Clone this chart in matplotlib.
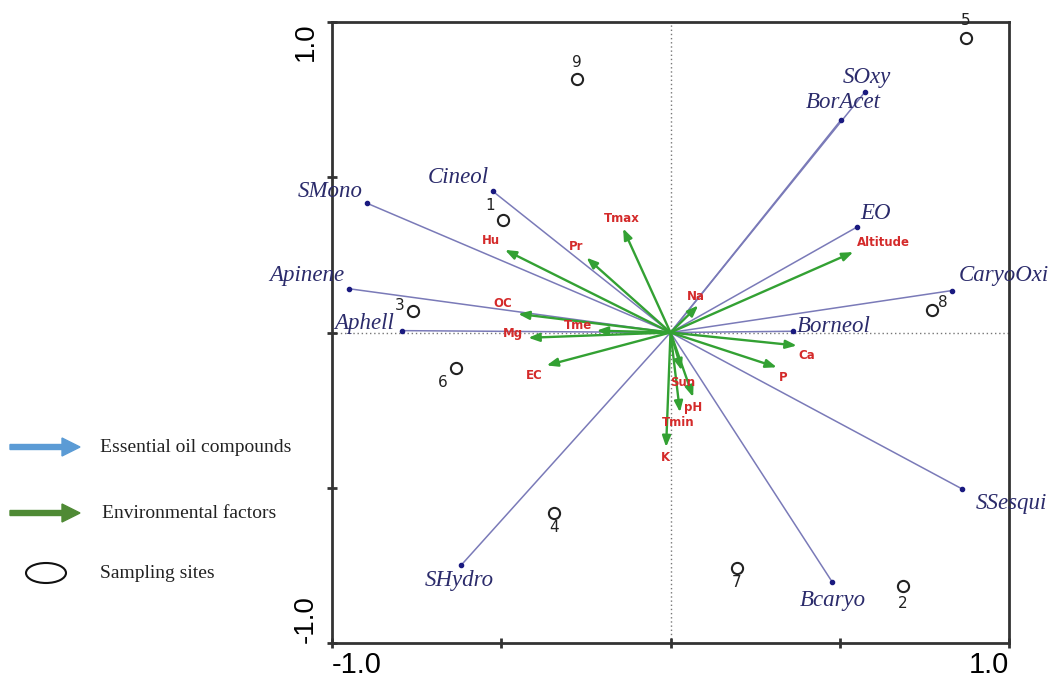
import matplotlib
matplotlib.use("Agg")
import matplotlib.pyplot as plt
from matplotlib.patches import Ellipse, FancyArrow

# ---- data ----
oil_names = ["SMono", "Cineol", "Apinene", "Aphell", "SOxy", "BorAcet", "EO",
             "CaryoOxi", "Borneol", "SSesqui", "Bcaryo", "SHydro"]
oil_x = [-0.896, -0.525, -0.950, -0.794, 0.574, 0.504, 0.550, 0.831, 0.363, 0.860, 0.478, -0.619]
oil_y = [0.416, 0.455, 0.141, 0.006, 0.774, 0.685, 0.339, 0.135, 0.004, -0.503, -0.804, -0.750]

env_names = ["Tmax", "Hu", "Pr", "OC", "Tme", "Mg", "EC", "Na", "Altitude",
             "Ca", "P", "Sun", "pH", "Tmin", "K"]
env_x = [-0.140, -0.489, -0.248, -0.450, -0.218, -0.420, -0.366, 0.082, 0.540,
         0.373, 0.314, 0.033, 0.067, 0.028, -0.013]
env_y = [0.335, 0.266, 0.241, 0.060, 0.006, -0.017, -0.106, 0.087, 0.259,
         -0.042, -0.112, -0.122, -0.208, -0.257, -0.369]

site_names = ["1", "2", "3", "4", "5", "6", "7", "8", "9"]
site_x = [-0.495, 0.687, -0.761, -0.344, 0.873, -0.634, 0.196, 0.772, -0.276]
site_y = [0.361, -0.818, 0.068, -0.580, 0.950, -0.113, -0.757, 0.074, 0.818]

# label offsets (pixels) for readability
oil_off = {"SMono": (-37, 12), "Cineol": (-35, 14), "Apinene": (-42, 13), "Aphell": (-38, 7),
           "SOxy": (2, 15), "BorAcet": (2, 17), "EO": (19, 14), "CaryoOxi": (52, 15),
           "Borneol": (40, 5), "SSesqui": (50, -15), "Bcaryo": (1, -18), "SHydro": (-2, -15)}
env_off = {"Tmax": (-1, 10), "Hu": (-14, 9), "Pr": (-10, 11), "OC": (-15, 10), "Tme": (-19, 5),
           "Mg": (-15, 4), "EC": (-12, -10), "Na": (-2, 9), "Altitude": (30, 10),
           "Ca": (10, -10), "P": (6, -10), "Sun": (1, -12), "pH": (0, -10), "Tmin": (-2, -10),
           "K": (-1, -10)}
site_off = {"1": (-13, 15), "2": (0, -17), "3": (-13, 6), "4": (0, -15), "5": (0, 17),
            "6": (-13, -15), "7": (0, -15), "8": (11, 7), "9": (0, 16)}

W, H = 1050, 678
fig = plt.figure(figsize=(W / 100, H / 100), dpi=100)
ax = fig.add_axes([332 / W, 1 - 643 / H, (1009 - 332) / W, (643 - 22) / H])
ax.set_xlim(-1, 1)
ax.set_ylim(-1, 1)

for s in ax.spines.values():
    s.set_linewidth(2)
    s.set_color("#333333")

ax.axhline(0, color="#777777", ls=(0, (1, 2)), lw=1, zorder=1)
ax.axvline(0, color="#777777", ls=(0, (1, 2)), lw=1, zorder=1)

navy = "#2b2b6b"
for n, x, y in zip(oil_names, oil_x, oil_y):
    ax.plot([0, x], [0, y], color="#7a7ab8", lw=1.1, zorder=2, solid_capstyle="butt")
    ax.plot([x], [y], marker="o", ms=3, color="#1a1a80", zorder=3)
    dx, dy = oil_off[n]
    ax.annotate(n, xy=(x, y), xytext=(dx, dy), textcoords="offset pixels",
                ha="center", va="center", fontsize=16.5, style="italic",
                family="Liberation Serif", color=navy, annotation_clip=False, zorder=4)

green = "#33a133"
for n, x, y in zip(env_names, env_x, env_y):
    ax.annotate("", xy=(x, y), xytext=(0, 0),
                arrowprops=dict(arrowstyle="-|>,head_length=0.65,head_width=0.25",
                                color=green, lw=1.7, shrinkA=0, shrinkB=0), zorder=5)
    dx, dy = env_off[n]
    ax.annotate(n, xy=(x, y), xytext=(dx, dy), textcoords="offset pixels",
                ha="center", va="center", fontsize=8.5, fontweight="bold",
                color="#d42a2a", zorder=6)

ax.scatter(site_x, site_y, s=65, facecolors="white", edgecolors="#222222",
           linewidths=1.5, zorder=7)
for n, x, y in zip(site_names, site_x, site_y):
    dx, dy = site_off[n]
    ax.annotate(n, xy=(x, y), xytext=(dx, dy), textcoords="offset pixels",
                ha="center", va="center", fontsize=11, color="#222222",
                annotation_clip=False, zorder=8)

ax.set_xticks([-1, -0.5, 0, 0.5, 1])
ax.set_xticklabels(["-1.0", "", "", "", "1.0"], fontsize=21, family="Liberation Sans")
ax.set_yticks([-1, -0.5, 0, 0.5, 1])
ax.set_yticklabels(["-1.0", "", "", "", "1.0"], fontsize=20, rotation=90,
                   family="Liberation Sans")
ax.tick_params(direction="inout", length=7, width=2, color="#333333")
ax.tick_params(axis="x", pad=2)
ax.tick_params(axis="y", pad=6)
xl = ax.get_xticklabels()
xl[0].set_ha("left")
xl[-1].set_ha("right")
yl = ax.get_yticklabels()
for t in yl:
    t.set_ha("right")
yl[0].set_va("bottom")
yl[-1].set_va("top")

# ---- legend on the left ----
fig.patches.append(FancyArrow(10 / W, 1 - 447 / H, 52 / W, 0, width=5 / H,
                              head_width=18 / H, head_length=18 / W,
                              length_includes_head=False, color="#5b9bd5",
                              transform=fig.transFigure, figure=fig))
fig.patches.append(FancyArrow(10 / W, 1 - 513 / H, 52 / W, 0, width=5 / H,
                              head_width=18 / H, head_length=18 / W,
                              length_includes_head=False, color="#4f8a35",
                              transform=fig.transFigure, figure=fig))
fig.patches.append(Ellipse((46 / W, 1 - 573 / H), 40 / W, 20 / H, fill=False,
                           edgecolor="#111111", lw=1.5, transform=fig.transFigure,
                           figure=fig))
fig.text(100 / W, 1 - 447 / H, "Essential oil compounds", family="Liberation Serif",
         fontsize=14, va="center", ha="left", color="#222222")
fig.text(102 / W, 1 - 513 / H, "Environmental factors", family="Liberation Serif",
         fontsize=14, va="center", ha="left", color="#222222")
fig.text(100 / W, 1 - 573 / H, "Sampling sites", family="Liberation Serif",
         fontsize=14, va="center", ha="left", color="#222222")

fig.savefig("out.png", dpi=100)
